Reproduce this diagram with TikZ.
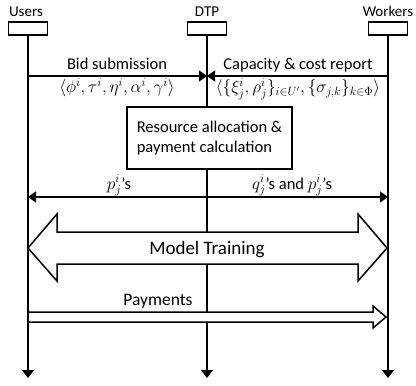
\documentclass[tikz,border=0pt]{standalone}
\usepackage{fontspec}
\setmainfont{Carlito}
\usetikzlibrary{arrows.meta, positioning, calc}

\begin{document}
\begin{tikzpicture}[
    x=1pt, y=-1pt,
    actorbox/.style={rectangle, draw=black, line width=1.5pt, fill=white,
                     minimum width=39pt, minimum height=13pt, inner sep=0pt},
    actorlabel/.style={anchor=base, inner sep=0pt, font=\fontsize{15}{17}\selectfont},
    msglabel/.style={inner sep=0pt, font=\fontsize{16.5}{19}\selectfont},
    lifeline/.style={line width=1.5pt, -{Triangle[width=12pt,length=8pt]}},
    msg/.style={line width=1.5pt, -{Triangle[width=11pt,length=8pt]}},
    procbox/.style={rectangle, draw=black, line width=1.5pt, fill=white,
                    align=left, minimum width=165pt, minimum height=62pt,
                    inner xsep=6pt, font=\fontsize{16.5}{20}\selectfont},
    bigarrow/.style={draw=black, line width=1.5pt, fill=white, line join=miter}
]
\useasboundingbox (0,0) rectangle (416,386);

%% Actors and their boxes
\node[actorbox] (usersbox)   at (28,28.5)  {};
\node[actorbox] (dtpbox)     at (207,28.5) {};
\node[actorbox] (workersbox) at (388,28.5) {};
\node[actorlabel] (users)   at (26,16)  {Users};
\node[actorlabel] (dtp)     at (207,16) {DTP};
\node[actorlabel] (workers) at (388,16) {Workers};

%% Lifelines
\coordinate (usersend)   at (usersbox.south   |- 0,378);
\coordinate (dtpend)     at (dtpbox.south     |- 0,378);
\coordinate (workersend) at (workersbox.south |- 0,378);
\draw[lifeline] (usersbox.south) -- (usersend);
\draw[lifeline] (dtpbox.south) -- (dtpend);
\draw[lifeline] (workersbox.south) -- (workersend);

%% Bid submission and capacity report
\coordinate (bidfrom) at (usersbox.south   |- 0,76);
\coordinate (bidto)   at (dtpbox.south     |- 0,76);
\coordinate (capfrom) at (workersbox.south |- 0,76);
\draw[msg] (bidfrom) -- (bidto);
\draw[msg] (capfrom) -- (bidto);
\node[msglabel, anchor=base] (bidtext) at (117,69) {Bid submission};
\node[msglabel] (bidmath) at (117,88)
    {$\langle\phi^i,\tau^i,\eta^i,\alpha^i,\gamma^i\rangle$};
\node[msglabel, anchor=base] (captext) at (298,69) {Capacity \& cost report};
\node[msglabel] (capmath) at (298,89)
    {$\langle\{\xi_j^i,\rho_j^i\}_{i\in U'},\{\sigma_{j,k}\}_{k\in\Phi}\rangle$};

%% Resource allocation
\node[procbox] (alloc) at (209.5,138) {Resource allocation \&\\payment calculation};

%% Results back to users and workers
\coordinate (resmid)   at (dtpbox.south     |- 0,197);
\coordinate (resusers) at (usersbox.south   |- 0,197);
\coordinate (reswork)  at (workersbox.south |- 0,197);
\draw[msg] (resmid) -- (resusers);
\draw[msg] (resmid) -- (reswork);
\node[msglabel, anchor=base] (ptext) at (119,189) {$p_j^i$'s};
\node[msglabel, anchor=base] (qtext) at (292,189) {$q_j^i$'s and $p_j^i$'s};

%% Model training double arrow
\draw[bigarrow] (28,248) -- (57,214) -- (57,232) -- (358,232) -- (358,214)
    -- (387,248) -- (358,281) -- (358,264) -- (57,264) -- (57,281) -- cycle;
\node[anchor=base, inner sep=0pt, font=\fontsize{19}{22}\selectfont]
    (training) at (207,254) {Model Training};

%% Payments arrow
\draw[bigarrow] (28,312) -- (373,312) -- (373,306) -- (386,317)
    -- (373,328) -- (373,322) -- (28,322) -- cycle;
\node[anchor=base, inner sep=0pt, font=\fontsize{17.5}{21}\selectfont]
    (payments) at (158,305) {Payments};
\end{tikzpicture}
\end{document}
